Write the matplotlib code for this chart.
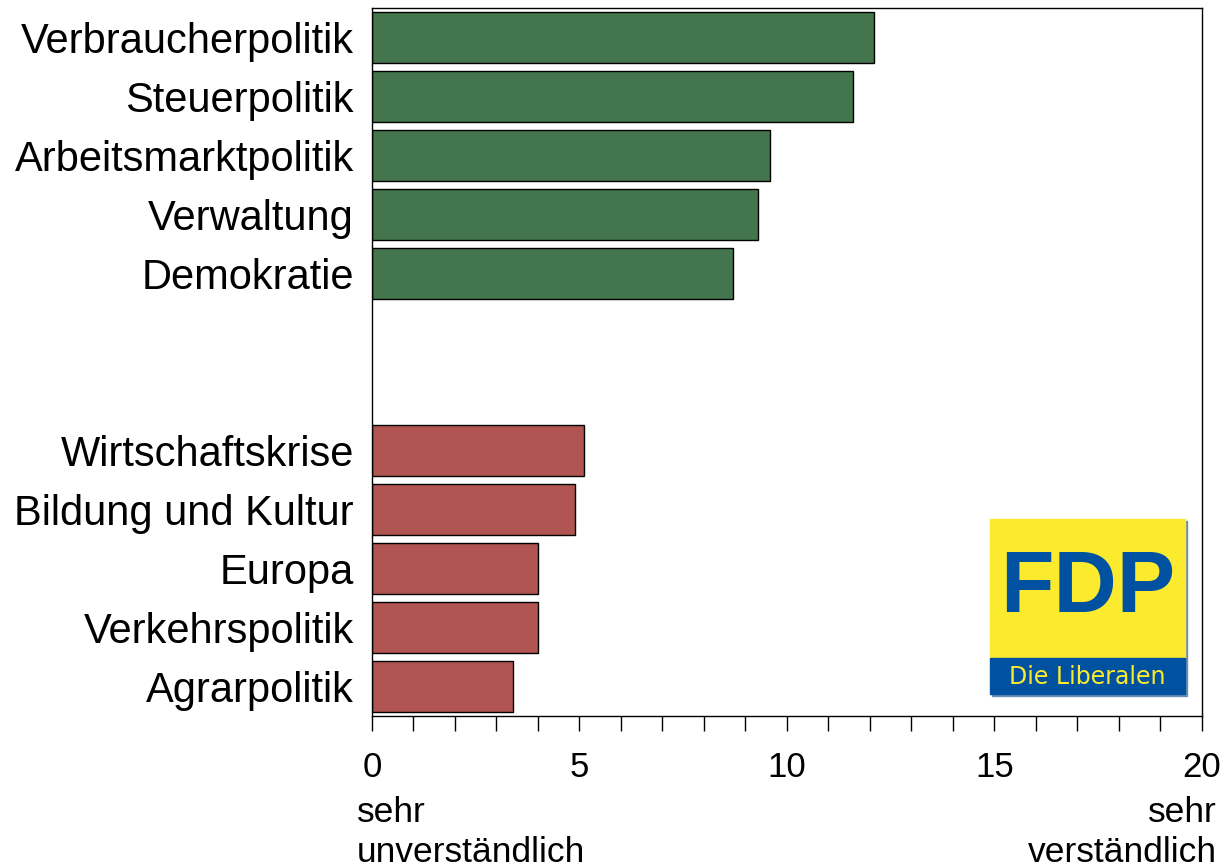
import numpy as np
import matplotlib.pyplot as plt
from matplotlib.patches import Rectangle

# data
top_labels = ["Verbraucherpolitik", "Steuerpolitik", "Arbeitsmarktpolitik", "Verwaltung", "Demokratie"]
top_values = [12.1, 11.6, 9.6, 9.3, 8.7]
bottom_labels = ["Wirtschaftskrise", "Bildung und Kultur", "Europa", "Verkehrspolitik", "Agrarpolitik"]
bottom_values = [5.1, 4.9, 4.0, 4.0, 3.4]

green = "#44764D"
red = "#B05552"

plt.rcParams['font.family'] = ['Liberation Sans', 'DejaVu Sans']

fig = plt.figure(figsize=(12.24, 8.68), dpi=100)
ax = fig.add_axes([0.3039, 0.1751, 0.6781, 0.8157])

top_pos = np.arange(len(top_labels))
bottom_pos = np.arange(len(bottom_labels)) + len(top_labels) + 2

ax.barh(top_pos, top_values, height=0.85, color=green, edgecolor="black", linewidth=1)
ax.barh(bottom_pos, bottom_values, height=0.85, color=red, edgecolor="black", linewidth=1)

ax.set_yticks(list(top_pos) + list(bottom_pos))
ax.set_yticklabels(top_labels + bottom_labels, fontsize=30)
ax.tick_params(axis="y", length=0, pad=13)

ax.set_xlim(0, 20)
ax.set_ylim(bottom_pos[-1] + 0.5, -0.5)
ax.set_xticks([0, 5, 10, 15, 20])
ax.set_xticks(np.arange(0, 21, 1), minor=True)
ax.tick_params(axis="x", which="both", direction="out", length=11, width=1, labelsize=25, pad=14)

for s in ax.spines.values():
    s.set_linewidth(1)

# axis end descriptions
fig.text(357 / 1224, 1 - 822 / 868, "sehr", fontsize=25.5, ha="left", va="baseline")
fig.text(357 / 1224, 1 - 862 / 868, "unverständlich", fontsize=25.5, ha="left", va="baseline")
fig.text(1217 / 1224, 1 - 822 / 868, "sehr", fontsize=25.5, ha="right", va="baseline")
fig.text(1217 / 1224, 1 - 862 / 868, "verständlich", fontsize=25.5, ha="right", va="baseline")

# logo
logo = fig.add_axes([990 / 1224, 1 - 694 / 868, 195 / 1224, 175 / 868])
logo.set_xlim(0, 1)
logo.set_ylim(0, 1)
logo.axis("off")
logo.add_patch(Rectangle((0.012, -0.014), 1.0, 1.0, color="#6C8FB0", zorder=0, clip_on=False))
logo.add_patch(Rectangle((0, 0.205), 1.0, 0.795, color="#FBEA2E", zorder=1, clip_on=False))
logo.add_patch(Rectangle((0, 0), 1.0, 0.205, color="#0052A0", zorder=1, clip_on=False))
logo.text(0.5, 0.6, "FDP", fontsize=63, fontweight="bold", color="#0052A0",
          ha="center", va="center", zorder=2)
logo.text(0.5, 0.1, "Die Liberalen", fontsize=17, color="#FBEA2E", family="DejaVu Sans",
          ha="center", va="center", zorder=2)

fig.savefig("out.png", dpi=100)
